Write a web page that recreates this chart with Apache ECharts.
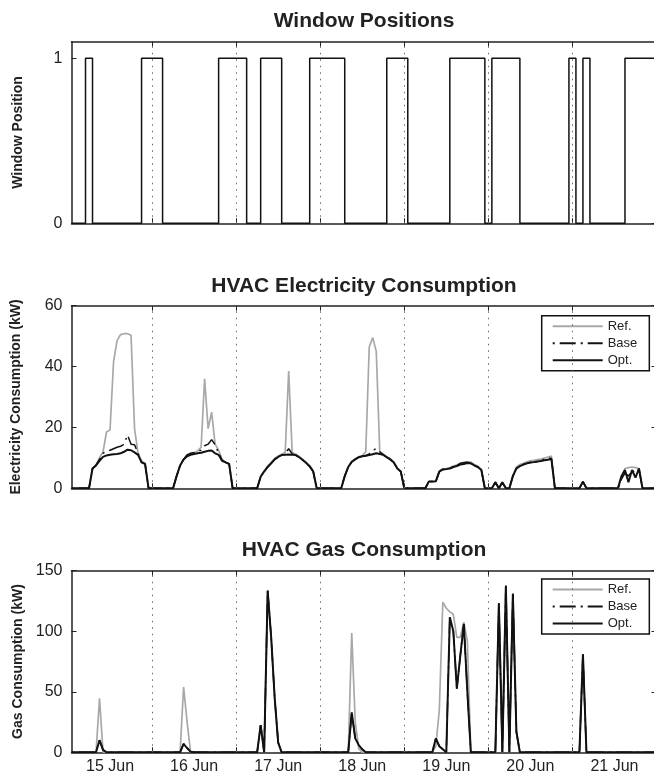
<!DOCTYPE html>
<html><head><meta charset="utf-8">
<script src="https://cdn.jsdelivr.net/npm/echarts@6/dist/echarts.min.js"></script>
<style>html,body{margin:0;padding:0;background:#fff}#c{width:654px;height:779px}</style>
</head><body><div id="c"></div>
<script>
// ---------- DATA ----------
const dayLabels = ['15 Jun','16 Jun','17 Jun','18 Jun','19 Jun','20 Jun','21 Jun'];
const dayLabelHours = [12,36,60,84,108,132,156];   // hour since 15 Jun 00:00
const midnightHours = [24,48,72,96,120,144];
const legendNames = ['Ref.','Base','Opt.'];

// window open intervals [openHour, closeHour]
const windowOpenIntervals = [[5,7],[21,27],[43,51],[55,61],[69,79],[91,97],[109,119],[121,129],[143,145],[147,149],[159,168]];

// HVAC electricity (kW), [hour, value]
const elecRef = [[1,0],[6,0],[7,6.5],[8,7.8],[9,10],[10,12],[11,18.5],[12,19.2],[13,41.5],[14,48.5],[15,50.5],[16,50.8],[17,50.8],[18,50.3],[19,19.5],[20,11.5],[21,9],[22,8.2],[23,0],
[30,0],[31,4],[32,7.5],[33,9.5],[34,10.8],[35,11.3],[36,11.6],[37,12.3],[38,13.5],[39,36],[40,19.6],[41,25],[42,14.5],[43,12.5],[44,9.5],[45,8.5],[46,8],[47,0],
[54,0],[55,4],[56,5.8],[57,7.3],[58,8.5],[59,9.8],[60,10.6],[61,11.2],[62,11.8],[63,38.5],[64,11.8],[65,11.2],[66,10.5],[67,9.5],[68,8.5],[69,7.4],[70,5.7],[71,0],
[78,0],[79,4],[80,7],[81,8.8],[82,9.7],[83,10.4],[84,10.7],[85,12],[86,46.5],[87,49.5],[88,45],[89,12],[90,11.2],[91,10.4],[92,9.7],[93,8.7],[94,6.7],[95,5.5],[96,0],
[102,0],[103,2.2],[104,2.2],[105,2.3],[106,5.6],[107,6.4],[108,6.5],[109,6.8],[110,7.3],[111,7.6],[112,8.2],[113,8.5],[114,8.7],[115,8.6],[116,7.8],[117,7.2],[118,6.2],[119,0],
[121,0],[122,2],[123,0],[124,2],[125,0],[126,0],[127,4.2],[128,7],[129,7.8],[130,8.2],[131,8.7],[132,9],[133,9.2],[134,9.4],[135,9.6],[136,9.9],[137,10.3],[138,10.6],[139,0],
[146,0],[147,2.2],[148,0],[157,0],[158,4],[159,6.5],[160,6.8],[161,7],[162,6.8],[163,6.5],[164,0],[168,0]];

const elecBase = [[1,0],[6,0],[7,6.5],[8,7.5],[9,9.5],[10,11.5],[11,12.2],[12,12.5],[13,13],[14,13.5],[15,13.8],[16,14.5],[17,17.5],[18,14.5],[19,14.3],[20,11.5],[21,8.5],[22,8],[23,0],
[30,0],[31,4],[32,7.5],[33,9.5],[34,11],[35,11.5],[36,11.8],[37,12.2],[38,12.5],[39,14],[40,14.5],[41,16],[42,14.3],[43,11.5],[44,9.2],[45,8.5],[46,8],[47,0],
[54,0],[55,3.8],[56,5.5],[57,7],[58,8.2],[59,9.5],[60,10.3],[61,10.9],[62,11.5],[63,13],[64,11.3],[65,10.9],[66,10.2],[67,9.3],[68,8.3],[69,7.2],[70,5.5],[71,0],
[78,0],[79,4],[80,7],[81,8.7],[82,9.5],[83,10.2],[84,10.5],[85,10.7],[86,11.3],[87,12.5],[88,13],[89,12],[90,11],[91,10.2],[92,9.5],[93,8.5],[94,6.5],[95,5.5],[96,0],
[102,0],[103,2.2],[104,2.2],[105,2.3],[106,5.5],[107,6.2],[108,6.3],[109,6.5],[110,7],[111,7.5],[112,8.2],[113,8.4],[114,8.6],[115,8.2],[116,7.5],[117,7],[118,6],[119,0],
[121,0],[122,2],[123,0],[124,2],[125,0],[126,0],[127,4],[128,6.5],[129,7.3],[130,7.8],[131,8.2],[132,8.5],[133,8.6],[134,8.8],[135,9],[136,9.6],[137,10],[138,9.8],[139,0],
[146,0],[147,2.2],[148,0],[157,0],[158,3],[159,5],[160,4],[161,6],[162,5],[163,6.3],[164,0],[168,0]];

const elecOpt = [[1,0],[6,0],[7,6.5],[8,7.5],[9,9],[10,10.3],[11,10.8],[12,11],[13,11.2],[14,11.3],[15,11.5],[16,12],[17,12.7],[18,12.5],[19,11.8],[20,11],[21,8.5],[22,8],[23,0],
[30,0],[31,4],[32,7.5],[33,9.5],[34,10.5],[35,11],[36,11.3],[37,11.5],[38,11.7],[39,12],[40,12.3],[41,12.4],[42,11.5],[43,11],[44,9],[45,8.5],[46,8],[47,0],
[54,0],[55,3.8],[56,5.5],[57,7],[58,8.2],[59,9.5],[60,10.3],[61,10.9],[62,11],[63,11.1],[64,11],[65,10.9],[66,10.2],[67,9.3],[68,8.3],[69,7.2],[70,5.5],[71,0],
[78,0],[79,4],[80,7],[81,8.7],[82,9.5],[83,10.2],[84,10.5],[85,10.7],[86,10.9],[87,11.2],[88,11.5],[89,11.3],[90,11],[91,10.2],[92,9.5],[93,8.5],[94,6.5],[95,5.5],[96,0],
[102,0],[103,2.2],[104,2.2],[105,2.3],[106,5.5],[107,6.2],[108,6.3],[109,6.5],[110,7],[111,7.3],[112,7.8],[113,8],[114,8.3],[115,8.2],[116,7.5],[117,7],[118,6],[119,0],
[121,0],[122,2],[123,0],[124,2],[125,0],[126,0],[127,4],[128,6.5],[129,7.3],[130,7.8],[131,8.2],[132,8.5],[133,8.6],[134,8.8],[135,9],[136,9.2],[137,9.4],[138,9.6],[139,0],
[146,0],[147,2.2],[148,0],[157,0],[158,4],[159,6],[160,2],[161,6],[162,3.5],[163,6.5],[164,0],[168,0]];

// HVAC gas (kW), [hour, value]
const gasRef = [[1,0],[8,0],[9,44.5],[10,0],[32,0],[33,54],[34,25],[35,0],[54,0],[55,22.5],[56,0],[57,133.5],[58,95],[59,45],[60,8],[61,0],
[80,0],[81,98.5],[82,25],[83,3],[84,0],[104,0],[105,5],[106,35],[107,124],[108,119],[109,116],[110,114],[111,95],[112,95],[113,107.5],[114,92],[115,0],
[122,0],[123,123],[124,0],[125,137.5],[126,0],[127,131],[128,17],[129,0],[146,0],[147,81],[148,0],[168,0]];
const gasBase = [[1,0],[8,0],[9,10],[10,2],[11,0],[32,0],[33,7],[34,3.5],[35,0.5],[36,0],[54,0],[55,22.5],[56,0],[57,133.5],[58,95],[59,45],[60,8],[61,0],
[80,0],[81,33],[82,11.5],[83,6],[84,2.5],[85,0],[104,0],[105,11.5],[106,5],[107,2.5],[108,0],[109,111.5],[110,100],[111,52.5],[112,80],[113,106],[114,50],[115,0],
[122,0],[123,123],[124,0],[125,137.5],[126,0],[127,131],[128,17],[129,0],[146,0],[147,81],[148,0],[168,0]];
const gasOpt = [[1,0],[8,0],[9,10],[10,2],[11,0],[32,0],[33,7],[34,3.5],[35,0.5],[36,0],[54,0],[55,22.5],[56,0],[57,133.5],[58,95],[59,45],[60,8],[61,0],
[80,0],[81,33],[82,11.5],[83,6],[84,2.5],[85,0],[104,0],[105,11.5],[106,5],[107,2.5],[108,0],[109,111.5],[110,100],[111,52.5],[112,80],[113,106],[114,50],[115,0],
[122,0],[123,123],[124,0],[125,137.5],[126,0],[127,131],[128,17],[129,0],[146,0],[147,81],[148,0],[168,0]];

// ---------- CHART ----------
const FONT = "'Liberation Sans', Arial, Helvetica, sans-serif";
const INK = '#222';
const windowData = [[1,0]];
windowOpenIntervals.forEach(([s,e]) => windowData.push([s,0],[s,1],[e,1],[e,0]));

const grids = [
  {left:71.5, top:41.7, width:585, height:181.6, outerBoundsMode:'none', containLabel:false},
  {left:71.5, top:305.7, width:585, height:182.6, outerBoundsMode:'none', containLabel:false},
  {left:71.5, top:570.7, width:585, height:181.6, outerBoundsMode:'none', containLabel:false}
];

const xAxes = [];
grids.forEach((g, gi) => {
  ['bottom','top'].forEach(pos => {
    xAxes.push({
      type:'value', gridIndex:gi, min:1, max:168, position:pos,
      axisLine:{show:true, onZero:false, lineStyle:{color:INK, width:1.5}},
      axisTick:{show:true, inside:true, length:5, customValues:midnightHours, lineStyle:{color:INK, width:1}},
      axisLabel:{show: gi===2 && pos==='bottom', customValues:dayLabelHours,
        formatter: v => dayLabels[dayLabelHours.indexOf(v)] || '',
        margin:6, fontSize:16, color:INK, fontFamily:FONT},
      splitLine:{show:false}
    });
  });
});

const yCfg = [
  {min:0, max:1.1, ticks:[0,1], name:'Window Position', gap:46},
  {min:0, max:60, interval:20, name:'Electricity Consumption (kW)', gap:48},
  {min:0, max:150, interval:50, name:'Gas Consumption (kW)', gap:39}
];
const yAxes = [];
yCfg.forEach((c, gi) => {
  ['left','right'].forEach(pos => {
    const ax = {
      type:'value', gridIndex:gi, min:c.min, max:c.max, position:pos,
      axisLine:{show:true, onZero:false, lineStyle:{color:INK, width:1.5}},
      axisTick:{show:true, inside:true, length:5, lineStyle:{color:INK, width:1}},
      axisLabel:{show: pos==='left', margin:9, fontSize:16, color:INK, fontFamily:FONT},
      splitLine:{show:false}
    };
    if (c.interval) ax.interval = c.interval;
    if (c.ticks) { ax.axisTick.customValues = c.ticks; ax.axisLabel.customValues = c.ticks; }
    if (pos==='left') {
      ax.name = c.name; ax.nameLocation = 'middle'; ax.nameGap = c.gap;
      ax.nameTextStyle = {fontSize:14, fontWeight:'bold', color:INK, fontFamily:FONT};
    }
    yAxes.push(ax);
  });
});

const dayLines = {
  silent:true, symbol:['none','none'], label:{show:false}, animation:false,
  lineStyle:{color:'#666', width:1, type:[1.5,5]},
  data: midnightHours.map(h => ({xAxis:h}))
};

const styles = {
  'Ref.': {color:'#a8a8a8', width:1.7, type:'solid'},
  'Base': {color:'#111', width:1.5, type:[2,5,16,5]},
  'Opt.': {color:'#111', width:2, type:'solid'}
};
function mk(name, data, gi) {
  return {type:'line', name, data, xAxisIndex:gi*2, yAxisIndex:gi*2, symbol:'none',
    lineStyle: styles[name], itemStyle:{color:styles[name].color}, animation:false, z:2};
}

const series = [
  {type:'line', name:'Window', data:windowData, xAxisIndex:0, yAxisIndex:0, symbol:'none',
   lineStyle:{color:'#111', width:1.5}, markLine:dayLines, animation:false},
  Object.assign(mk('Ref.', elecRef, 1), {markLine:dayLines}),
  mk('Base', elecBase, 1),
  mk('Opt.', elecOpt, 1),
  Object.assign(mk('Ref.', gasRef, 2), {markLine:dayLines}),
  mk('Base', gasBase, 2),
  mk('Opt.', gasOpt, 2)
];

const titleStyle = {fontSize:21, fontWeight:'bold', color:INK, fontFamily:FONT};
const legendBase = {
  data:legendNames, orient:'vertical', left:541.7, itemWidth:50, itemHeight:14, itemGap:4,
  padding:[4,12,4,10], borderColor:'#111', borderWidth:1.5, backgroundColor:'#fff',
  itemStyle:{opacity:0},
  selectedMode:false, textStyle:{fontSize:13, color:INK, fontFamily:FONT}
};

const chart = echarts.init(document.getElementById('c'), null, {renderer:'canvas'});
chart.setOption({
  animation:false,
  backgroundColor:'#fff',
  title:[
    {text:'Window Positions', left:364, top:10.5, textAlign:'center', padding:0, textStyle:titleStyle},
    {text:'HVAC Electricity Consumption', left:364, top:275.5, textAlign:'center', padding:0, textStyle:titleStyle},
    {text:'HVAC Gas Consumption', left:364, top:540, textAlign:'center', padding:0, textStyle:titleStyle}
  ],
  legend:[Object.assign({}, legendBase, {top:315.7}), Object.assign({}, legendBase, {top:579})],
  grid:grids,
  xAxis:xAxes,
  yAxis:yAxes,
  series
});
</script></body></html>
